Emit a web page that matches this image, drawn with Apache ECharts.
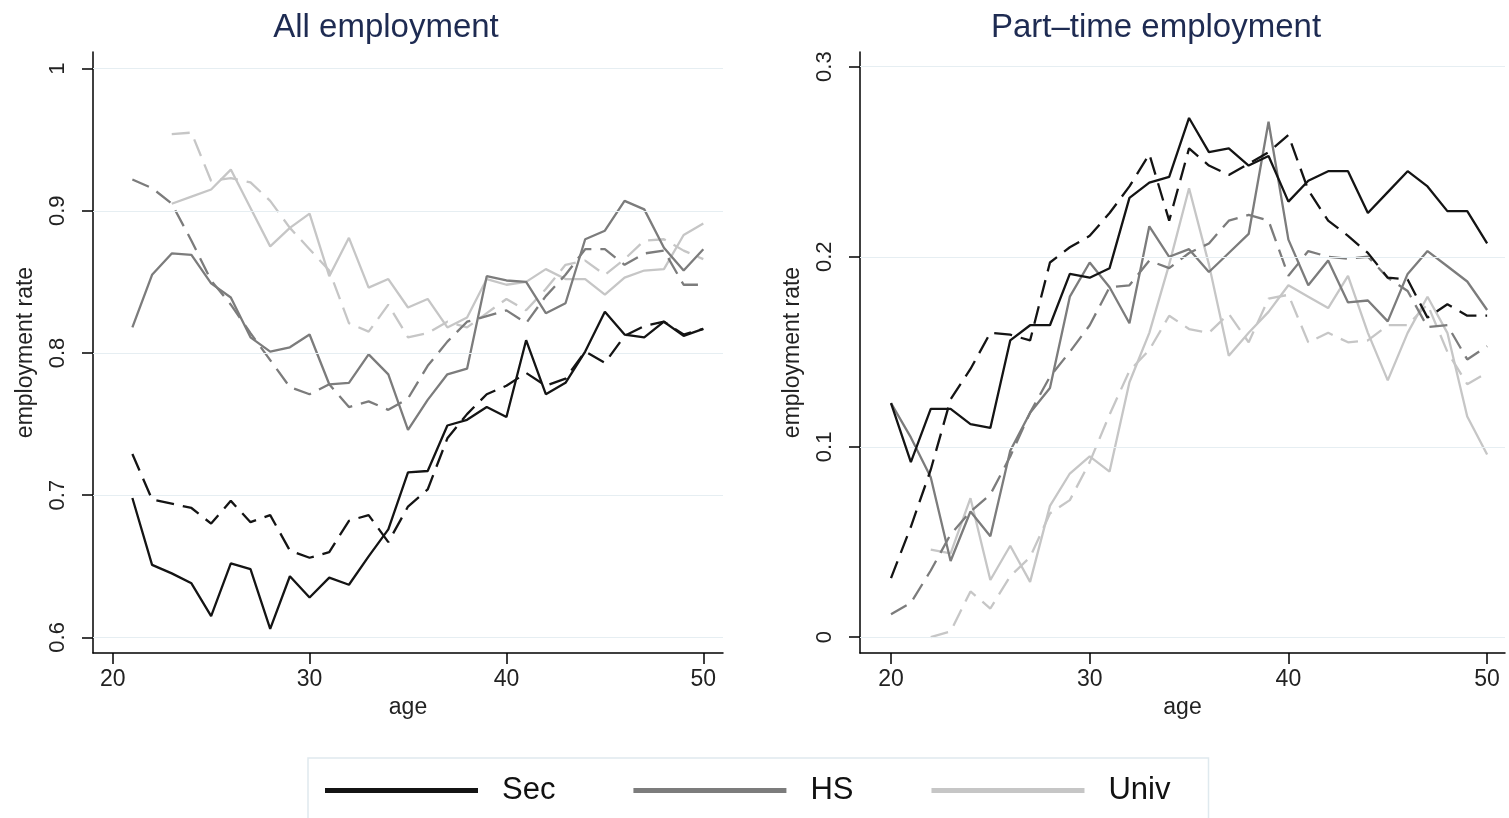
<!DOCTYPE html>
<html>
<head>
<meta charset="utf-8">
<script src="https://cdn.jsdelivr.net/npm/echarts@6/dist/echarts.min.js"></script>
<style>
html,body{margin:0;padding:0;background:#fff;}
#chart{width:1509px;height:818px;}
</style>
</head>
<body>
<div id="chart"></div>
<script>
// ---- categories (ages) ----
const agesAll   = [21,22,23,24,25,26,27,28,29,30,31,32,33,34,35,36,37,38,39,40,41,42,43,44,45,46,47,48,49,50];
const agesAllU  = [23,24,25,26,27,28,29,30,31,32,33,34,35,36,37,38,39,40,41,42,43,44,45,46,47,48,49,50];
const agesPt    = [20,21,22,23,24,25,26,27,28,29,30,31,32,33,34,35,36,37,38,39,40,41,42,43,44,45,46,47,48,49,50];
const agesPtU   = [22,23,24,25,26,27,28,29,30,31,32,33,34,35,36,37,38,39,40,41,42,43,44,45,46,47,48,49,50];

// ---- All employment ----
const secAllSolid  = [0.698,0.651,0.645,0.638,0.615,0.652,0.648,0.606,0.643,0.628,0.642,0.637,0.657,0.676,0.716,0.717,0.749,0.753,0.762,0.755,0.809,0.771,0.779,0.801,0.829,0.813,0.811,0.822,0.812,0.817];
const secAllDash   = [0.729,0.697,0.694,0.691,0.680,0.696,0.681,0.686,0.661,0.656,0.660,0.682,0.686,0.667,0.692,0.704,0.740,0.757,0.771,0.777,0.786,0.777,0.782,0.801,0.793,0.812,0.819,0.822,0.813,0.817];
const hsAllSolid   = [0.818,0.855,0.870,0.869,0.849,0.839,0.811,0.801,0.804,0.813,0.778,0.779,0.799,0.785,0.746,0.767,0.785,0.789,0.854,0.851,0.850,0.828,0.835,0.880,0.886,0.907,0.901,0.874,0.858,0.873];
const hsAllDash    = [0.922,0.916,0.905,0.879,0.851,0.834,0.814,0.795,0.776,0.771,0.778,0.762,0.766,0.760,0.768,0.791,0.808,0.822,0.826,0.830,0.821,0.840,0.855,0.873,0.873,0.862,0.870,0.872,0.848,0.848];
const univAllSolid = [0.905,0.910,0.915,0.929,0.902,0.875,0.888,0.898,0.854,0.881,0.846,0.852,0.832,0.838,0.818,0.825,0.852,0.848,0.850,0.859,0.852,0.852,0.841,0.853,0.858,0.859,0.883,0.891];
const univAllDash  = [0.954,0.955,0.921,0.923,0.920,0.907,0.888,0.873,0.858,0.821,0.815,0.834,0.811,0.814,0.822,0.818,0.828,0.838,0.830,0.845,0.862,0.865,0.855,0.866,0.879,0.880,0.872,0.866];

// ---- Part-time employment ----
const secPtSolid  = [0.123,0.092,0.120,0.120,0.112,0.110,0.156,0.164,0.164,0.191,0.189,0.194,0.231,0.239,0.242,0.273,0.255,0.257,0.248,0.253,0.229,0.240,0.245,0.245,0.223,0.234,0.245,0.237,0.224,0.224,0.207];
const secPtDash   = [0.031,0.058,0.088,0.125,0.141,0.160,0.159,0.156,0.197,0.205,0.211,0.223,0.237,0.254,0.219,0.257,0.248,0.243,0.249,0.255,0.264,0.235,0.219,0.211,0.202,0.189,0.188,0.168,0.175,0.169,0.169];
const hsPtSolid   = [0.123,0.105,0.084,0.040,0.066,0.053,0.098,0.118,0.131,0.179,0.197,0.184,0.165,0.216,0.200,0.204,0.192,0.202,0.212,0.271,0.209,0.185,0.198,0.176,0.177,0.166,0.191,0.203,0.195,0.187,0.172];
const hsPtDash    = [0.012,0.018,0.035,0.054,0.066,0.075,0.095,0.118,0.137,0.150,0.164,0.184,0.185,0.198,0.194,0.202,0.207,0.219,0.222,0.219,0.190,0.203,0.200,0.199,0.200,0.189,0.182,0.163,0.164,0.146,0.153];
const univPtSolid = [0.046,0.044,0.073,0.030,0.048,0.029,0.069,0.086,0.095,0.087,0.134,0.160,0.196,0.236,0.196,0.148,0.160,0.171,0.185,0.179,0.173,0.190,0.160,0.135,0.160,0.179,0.160,0.116,0.096];
const univPtDash  = [0.000,0.003,0.024,0.015,0.032,0.042,0.065,0.072,0.092,0.117,0.140,0.151,0.169,0.162,0.160,0.170,0.155,0.178,0.180,0.155,0.160,0.155,0.156,0.164,0.164,0.175,0.150,0.133,0.139];

// ---- tick labels ----
const xTicks     = [20,30,40,50];
const yTicksAll  = [0.6,0.7,0.8,0.9,1];
const yTicksPt   = [0,0.1,0.2,0.3];
const seriesNames = ['Sec','HS','Univ'];

const FONT = '"Liberation Sans", Arial, Helvetica, sans-serif';
const COLORS = {Sec:'#141414', HS:'#7c7c7c', Univ:'#c6c6c6'};
const DASH = [18,9];
const GRIDC = '#e6eef2';

function pairs(xs, ys){ return xs.map((x,i)=>[x, ys[i]]); }

function xAxisCfg(gi, min, max){
  return {
    type:'value', gridIndex:gi, min:min, max:max,
    name:'age', nameLocation:'middle', nameGap:39,
    nameTextStyle:{fontFamily:FONT, fontSize:23, color:'#222'},
    axisLine:{show:true, onZero:false, lineStyle:{color:'#000', width:1.5}},
    axisTick:{show:true, inside:false, length:11, customValues:xTicks, lineStyle:{color:'#000', width:1.5}},
    axisLabel:{customValues:xTicks, margin:15, fontFamily:FONT, fontSize:23, color:'#222'},
    splitLine:{show:false}
  };
}
function yAxisCfg(gi, min, max, ticks){
  return {
    type:'value', gridIndex:gi, min:min, max:max,
    name:'employment rate', nameLocation:'middle', nameGap:56,
    nameTextStyle:{fontFamily:FONT, fontSize:23, color:'#222'},
    axisLine:{show:true, onZero:false, lineStyle:{color:'#000', width:1.5}},
    axisTick:{show:true, inside:false, length:11, customValues:ticks, lineStyle:{color:'#000', width:1.5}},
    axisLabel:{customValues:ticks, rotate:90, margin:24, fontFamily:FONT, fontSize:22, color:'#222'},
    splitLine:{show:false}
  };
}
function gridLines(values){
  return {
    silent:true, symbol:'none', label:{show:false},
    lineStyle:{color:GRIDC, width:1.2, type:'solid'},
    data: values.map(v=>({yAxis:v}))
  };
}
function line(name, gi, xs, ys, dashed, withGrid, gridVals){
  const s = {
    name: dashed ? name + ' ' : name,
    type:'line', xAxisIndex:gi, yAxisIndex:gi,
    data: pairs(xs, ys),
    symbol:'none', animation:false,
    lineStyle:{color:COLORS[name], width:2.3, type: dashed ? DASH : 'solid'},
    itemStyle:{color:COLORS[name]},
    z: name==='Sec'?5:(name==='HS'?4:3)
  };
  if (withGrid) s.markLine = gridLines(gridVals);
  return s;
}

const chart = echarts.init(document.getElementById('chart'), null, {renderer:'canvas'});
chart.setOption({
  backgroundColor:'#fff',
  animation:false,
  title:[
    {text:'All employment', left:381, top:6, textAlign:'center',
     textStyle:{fontFamily:FONT, fontSize:33, fontWeight:'normal', color:'#1e2b52'}},
    {text:'Part\u2013time employment', left:1151, top:6, textAlign:'center',
     textStyle:{fontFamily:FONT, fontSize:33, fontWeight:'normal', color:'#1e2b52'}}
  ],
  legend:{
    left:308, top:758, orient:'horizontal',
    data: seriesNames.map(n=>({name:n, icon:'rect', itemStyle:{color:COLORS[n]}})),
    itemWidth:153, itemHeight:5, itemGap:78,
    padding:[17,38,16,17],
    borderColor:'#dfe9ee', borderWidth:1.5, borderRadius:0,
    backgroundColor:'#fff',
    textStyle:{fontFamily:FONT, fontSize:31, color:'#111', padding:[0,0,0,19]},
    selectedMode:false
  },
  grid:[
    {left:93, right:786, top:52, bottom:165, containLabel:false},
    {left:860, right:4, top:52, bottom:165, containLabel:false}
  ],
  xAxis:[ xAxisCfg(0, 19, 51), xAxisCfg(1, 18.44, 50.9) ],
  yAxis:[ yAxisCfg(0, 0.589, 1.0117, yTicksAll), yAxisCfg(1, -0.0084, 0.3077, yTicksPt) ],
  series:[
    line('Univ',0,agesAllU,univAllSolid,false,true,yTicksAll),
    line('Univ',0,agesAllU,univAllDash,true),
    line('HS',0,agesAll,hsAllSolid,false),
    line('HS',0,agesAll,hsAllDash,true),
    line('Sec',0,agesAll,secAllSolid,false),
    line('Sec',0,agesAll,secAllDash,true),
    line('Univ',1,agesPtU,univPtSolid,false,true,yTicksPt),
    line('Univ',1,agesPtU,univPtDash,true),
    line('HS',1,agesPt,hsPtSolid,false),
    line('HS',1,agesPt,hsPtDash,true),
    line('Sec',1,agesPt,secPtSolid,false),
    line('Sec',1,agesPt,secPtDash,true)
  ]
});
</script>
</body>
</html>
